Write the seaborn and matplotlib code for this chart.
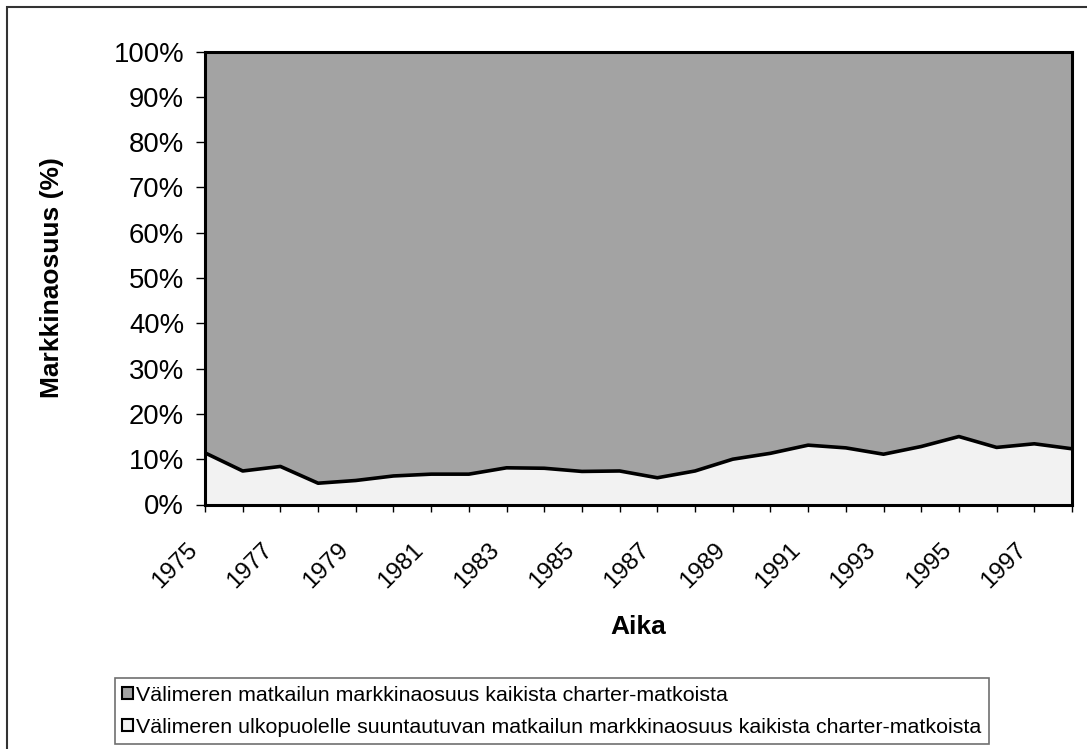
import numpy as np
import matplotlib
matplotlib.use("Agg")
import matplotlib.pyplot as plt
import matplotlib.patches as mpatches
import matplotlib.transforms as mtransforms
from matplotlib.ticker import FuncFormatter
import seaborn as sns

sns.set_theme(style="white")
plt.rcParams['font.family'] = ['Liberation Sans', 'DejaVu Sans']

# --- data (market share, %) ---
years = list(range(1975, 1999))
outside_med = [11.4, 7.4, 8.4, 4.7, 5.3, 6.3, 6.7, 6.7, 8.1, 8.0, 7.3, 7.4,
               5.9, 7.4, 10.0, 11.3, 13.1, 12.5, 11.1, 12.8, 15.0, 12.6, 13.4, 12.3]
med = [88.6, 92.6, 91.6, 95.3, 94.7, 93.7, 93.3, 93.3, 91.9, 92.0, 92.7, 92.6,
       94.1, 92.6, 90.0, 88.7, 86.9, 87.5, 88.9, 87.2, 85.0, 87.4, 86.6, 87.7]
year_labels = [str(y) if y % 2 == 1 else "" for y in years]

label_med = "Välimeren matkailun markkinaosuus kaikista charter-matkoista"
label_out = "Välimeren ulkopuolelle suuntautuvan matkailun markkinaosuus kaikista charter-matkoista"

C_MED = "#A3A3A3"
C_OUT = "#F2F2F2"

W, H = 1087, 749
fig = plt.figure(figsize=(W / 100, H / 100), dpi=100)
ax = fig.add_axes([205 / W, 1 - 504.5 / H, 867 / W, 453 / H])

ax.stackplot(years, outside_med, med, colors=[C_OUT, C_MED], linewidth=0)
sns.lineplot(x=years, y=outside_med, ax=ax, color="black", linewidth=2.6)

ax.set_xlim(years[0], years[-1])
ax.set_ylim(0, 100)
ax.set_yticks(np.arange(0, 101, 10))
ax.yaxis.set_major_formatter(FuncFormatter(lambda v, _: f"{v:.0f}%"))
ax.set_xticks(years)

for s in ax.spines.values():
    s.set_visible(True)
    s.set_color("black")
    s.set_linewidth(2.2)

ax.tick_params(axis="y", direction="out", length=6.5, width=1, pad=8.5,
               labelsize=19.8, colors="black", left=True)
ax.tick_params(axis="x", direction="out", length=5, width=1, pad=25,
               labelsize=17.5, colors="black", bottom=True)
ax.set_xticklabels(year_labels, rotation=45, ha="right", va="center",
                   rotation_mode="anchor")

ax.set_ylabel("Markkinaosuus (%)", fontsize=19, fontweight="bold", color="black")
ax.set_xlabel("Aika", fontsize=19, fontweight="bold", color="black")
ax.yaxis.set_label_coords((52 - 205) / 867, 0.5)
ax.yaxis.label.set_va("center")
ax.xaxis.set_label_coords(0.5, (504.5 - 627) / 453)
ax.xaxis.label.set_va("center")
ax.grid(False)

handles = [mpatches.Patch(facecolor=C_MED, edgecolor="black", linewidth=1.5),
           mpatches.Patch(facecolor=C_OUT, edgecolor="black", linewidth=1.5)]
leg = fig.legend(handles, [label_med, label_out], loc="lower left",
                 bbox_to_anchor=(115 / W, 5 / H), fontsize=15.4, frameon=True,
                 fancybox=False, edgecolor="#707070", framealpha=1,
                 handlelength=0.5, handleheight=0.5, handletextpad=0.15,
                 borderpad=0.35, labelspacing=0.6, borderaxespad=0)
leg.get_frame().set_linewidth(1.2)
for t in leg.get_texts():
    t.set_color("black")

# outer chart border
fig.patches.append(mpatches.Rectangle((7 / W, -0.02), 1.05, 1 - 7 / H + 0.02,
                                      transform=fig.transFigure, fill=False,
                                      edgecolor="#333333", linewidth=1.5))

# nudge the rotated year labels left, like the original
fig.canvas.draw()
shift = mtransforms.ScaledTranslation(-11 / 100, 0, fig.dpi_scale_trans)
for t in ax.get_xticklabels():
    t.set_transform(t.get_transform() + shift)

fig.savefig("out.png", dpi=100)
